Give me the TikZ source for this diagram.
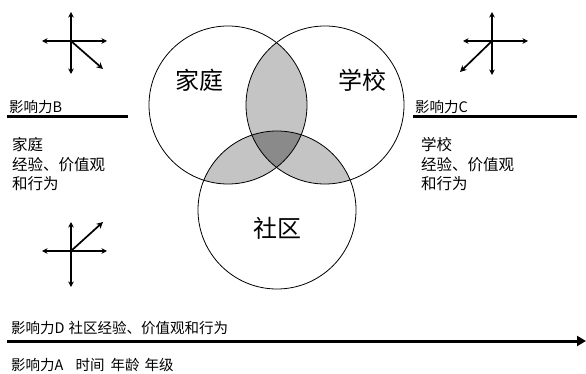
\documentclass[tikz,border=0pt]{standalone}
\usepackage{fontspec}
\setmainfont{Noto Sans CJK SC}
\usetikzlibrary{arrows.meta}
\definecolor{lens}{HTML}{C4C4C4}
\definecolor{core}{HTML}{8A8A8A}
\tikzset{
  ring/.style={circle,draw=black,line width=0.8pt,minimum size=158pt,inner sep=0pt},
  biglabel/.style={font=\fontsize{24pt}{26pt}\selectfont,inner sep=0pt},
  txt/.style={anchor=west,inner sep=0pt,font=\fontsize{15.5pt}{19.5pt}\selectfont,align=left},
  smalltxt/.style={anchor=west,inner sep=0pt,font=\fontsize{14.5pt}{17pt}\selectfont},
  axis/.style={line width=1.7pt,{Stealth[length=5.5pt,width=5.5pt]}-{Stealth[length=5.5pt,width=5.5pt]}},
  diag/.style={line width=1.7pt,-{Stealth[length=6.5pt,width=6.5pt]}},
  thickline/.style={line width=3pt},
  timearrow/.style={line width=3pt,-{Triangle[length=9pt,width=10pt]}}
}
\begin{document}
\begin{tikzpicture}[x=1pt,y=-1pt]
\useasboundingbox (0,0) rectangle (586,374);
% Venn circles
\coordinate (cf) at (228,105);
\coordinate (cs) at (325,105);
\coordinate (cc) at (277,210);
\begin{scope}
  \clip (cf) circle (79);
  \fill[lens] (cs) circle (79);
  \fill[lens] (cc) circle (79);
\end{scope}
\begin{scope}
  \clip (cs) circle (79);
  \fill[lens] (cc) circle (79);
\end{scope}
\begin{scope}
  \clip (cf) circle (79);
  \clip (cs) circle (79);
  \fill[core] (cc) circle (79);
\end{scope}
\node[ring] (fam) at (cf) {};
\node[ring] (sch) at (cs) {};
\node[ring] (com) at (cc) {};
\node[biglabel] (famL) at (199,80) {家庭};
\node[biglabel] (schL) at (362,80) {学校};
\node[biglabel] (comL) at (277,228) {社区};
% cross 1 (top left)
\coordinate (o1) at (71,41);
\coordinate (o1n) at (71,12);
\coordinate (o1s) at (71,74);
\coordinate (o1w) at (42,41);
\coordinate (o1e) at (107,41);
\coordinate (o1d) at (103,69);
\draw[axis] (o1n) -- (o1s);
\draw[axis] (o1w) -- (o1e);
\draw[diag] (o1) -- (o1d);
% cross 2 (top right)
\coordinate (o2) at (492,41);
\coordinate (o2n) at (492,12);
\coordinate (o2s) at (492,75);
\coordinate (o2w) at (463,41);
\coordinate (o2e) at (528,41);
\coordinate (o2d) at (460,72);
\draw[axis] (o2n) -- (o2s);
\draw[axis] (o2w) -- (o2e);
\draw[diag] (o2) -- (o2d);
% cross 3 (bottom left)
\coordinate (o3) at (71,251);
\coordinate (o3n) at (71,222);
\coordinate (o3s) at (71,287);
\coordinate (o3w) at (42,251);
\coordinate (o3e) at (107,251);
\coordinate (o3d) at (103,222);
\draw[axis] (o3n) -- (o3s);
\draw[axis] (o3w) -- (o3e);
\draw[diag] (o3) -- (o3d);
% influence B
\node[smalltxt] (infB) at (9,107.5) {影响力B};
\coordinate (bl) at (7,116.7);
\coordinate (br) at (128,116.7);
\draw[thickline] (bl) -- (br);
\node[txt,anchor=north west] (famT) at (12,137.5) {家庭\\经验、价值观\\和行为};
% influence C
\node[smalltxt] (infC) at (415,107.5) {影响力C};
\coordinate (cl) at (413,116.7);
\coordinate (cr) at (577,116.7);
\draw[thickline] (cl) -- (cr);
\node[txt,anchor=north west] (schT) at (421,137.5) {学校\\经验、价值观\\和行为};
% influence D and A
\node[smalltxt] (infD) at (11,328) {影响力D\hspace{4pt}社区经验、价值观和行为};
\coordinate (tl) at (7,341);
\coordinate (tr) at (586,341);
\draw[timearrow] (tl) -- (tr);
\node[smalltxt] (infA) at (11,364.5) {影响力A\hspace{12pt}时间\hspace{6pt}年龄\hspace{5pt}年级};
\end{tikzpicture}
\end{document}
